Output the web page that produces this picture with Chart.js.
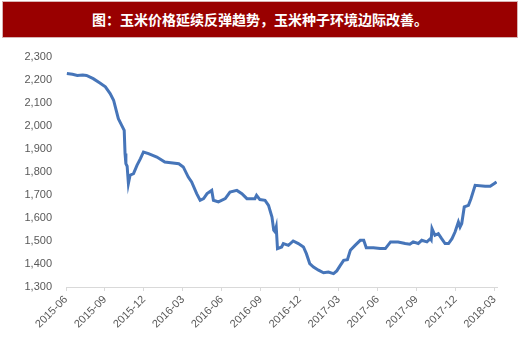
<!DOCTYPE html>
<html>
<head>
<meta charset="utf-8">
<script src="https://cdn.jsdelivr.net/npm/chart.js@4"></script>
<style>
  html, body { margin: 0; padding: 0; background: #ffffff; }
  #wrap { position: relative; width: 520px; height: 356px; }
  #banner {
    position: absolute; left: 2px; top: 1px; width: 514px; height: 35px;
    background: #990000; border: 1px solid #d9b3b3;
    color: #ffffff; font-family: "Noto Sans CJK SC", sans-serif; font-weight: bold;
    font-size: 14px; line-height: 35px; text-align: center; z-index: 2;
  }
  canvas { position: absolute; left: 0; top: 0; }
</style>
</head>
<body>
<div id="wrap">
  <div id="banner">图：玉米价格延续反弹趋势，玉米种子环境边际改善。</div>
  <canvas id="c" width="520" height="356"></canvas>
</div>
<script>
const tickLabels = ["2015-06","2015-09","2015-12","2016-03","2016-06","2016-09","2016-12","2017-03","2017-06","2017-09","2017-12","2018-03"];

const dates = [
  "2015-06-03","2015-06-16","2015-06-27","2015-07-10","2015-07-19","2015-08-04","2015-08-20","2015-09-02",
  "2015-09-13","2015-09-21","2015-09-27","2015-10-02","2015-10-10","2015-10-16","2015-10-18","2015-10-20",
  "2015-10-23","2015-10-26","2015-10-30","2015-11-07","2015-11-15","2015-11-23","2015-11-30","2015-12-12",
  "2016-01-01","2016-01-20","2016-02-03","2016-02-21","2016-03-02","2016-03-14","2016-03-22","2016-04-03",
  "2016-04-11","2016-04-19","2016-04-27","2016-05-08","2016-05-12","2016-05-24","2016-06-09","2016-06-20",
  "2016-07-06","2016-07-18","2016-07-30","2016-08-18","2016-08-22","2016-08-30","2016-09-11","2016-09-19",
  "2016-09-27","2016-10-01","2016-10-04","2016-10-07","2016-10-10","2016-10-20","2016-10-24","2016-11-05",
  "2016-11-16","2016-11-28","2016-12-10","2016-12-17","2016-12-25","2017-01-03","2017-01-15","2017-01-27",
  "2017-02-07","2017-02-18","2017-02-25","2017-03-05","2017-03-13","2017-03-22","2017-03-29","2017-04-09",
  "2017-04-21","2017-04-29","2017-05-05","2017-05-22","2017-06-07","2017-06-19","2017-07-01","2017-07-19",
  "2017-08-05","2017-08-16","2017-08-24","2017-09-05","2017-09-13","2017-09-25","2017-10-03","2017-10-05",
  "2017-10-07","2017-10-14","2017-10-22","2017-10-30","2017-11-07","2017-11-15","2017-11-23","2017-11-30",
  "2017-12-08","2017-12-12","2017-12-16","2017-12-22","2018-01-01","2018-01-07","2018-01-17","2018-02-09",
  "2018-02-20","2018-02-28","2018-03-06"
];

const prices = [
  2228,2225,2220,2222,2220,2206,2187,2170,
  2141,2112,2068,2032,2003,1981,1880,1836,
  1825,1750,1786,1793,1829,1858,1887,1880,
  1865,1843,1840,1836,1822,1778,1757,1706,
  1677,1684,1706,1720,1677,1670,1684,1713,
  1720,1706,1684,1684,1699,1680,1677,1655,
  1604,1547,1540,1561,1467,1474,1489,1481,
  1500,1489,1474,1445,1402,1387,1373,1362,
  1365,1358,1370,1394,1416,1419,1460,1481,
  1503,1503,1471,1471,1467,1467,1496,1496,
  1489,1486,1496,1489,1503,1496,1510,1505,
  1554,1525,1532,1510,1489,1489,1510,1539,
  1583,1561,1576,1648,1655,1684,1742,1738,
  1738,1749,1757
];

function monthPos(s) {
  const [y, m, d] = s.split("-").map(Number);
  const dim = new Date(y, m, 0).getDate();
  return (y - 2015) * 12 + (m - 6) + (d - 1) / dim;
}

const points = dates.map((d, i) => ({ x: monthPos(d), y: prices[i] }));

const tickFont = { family: "'Liberation Sans', Arial, sans-serif", size: 11 };

new Chart(document.getElementById("c"), {
  type: "line",
  data: {
    datasets: [{
      data: points,
      borderColor: "#4675b9",
      borderWidth: 3,
      pointRadius: 0,
      tension: 0,
      fill: false
    }]
  },
  options: {
    responsive: false,
    animation: false,
    events: [],
    layout: { padding: { top: 57, right: 23, bottom: 0, left: 0 } },
    plugins: { legend: { display: false }, tooltip: { enabled: false }, title: { display: false } },
    scales: {
      x: {
        type: "linear",
        min: 0,
        max: 33.2,
        afterBuildTicks: (axis) => { axis.ticks = tickLabels.map((_, i) => ({ value: i * 3 })); },
        afterFit: (scale) => { scale.height = 69; },
        grid: { display: true, drawOnChartArea: false, drawTicks: true, tickLength: 4, color: "#d9d9d9" },
        border: { display: true, color: "#d9d9d9", width: 1 },
        ticks: {
          autoSkip: false,
          minRotation: 45,
          maxRotation: 45,
          padding: 2,
          color: "#595959",
          font: tickFont,
          callback: (v) => tickLabels[Math.round(v / 3)]
        }
      },
      y: {
        min: 1300,
        max: 2300,
        afterFit: (scale) => { scale.width = 66; },
        grid: { display: false, drawTicks: false },
        border: { display: false },
        ticks: {
          stepSize: 100,
          padding: 14,
          color: "#595959",
          font: tickFont,
          callback: (v) => v.toLocaleString("en-US")
        }
      }
    }
  }
});
</script>
</body>
</html>
